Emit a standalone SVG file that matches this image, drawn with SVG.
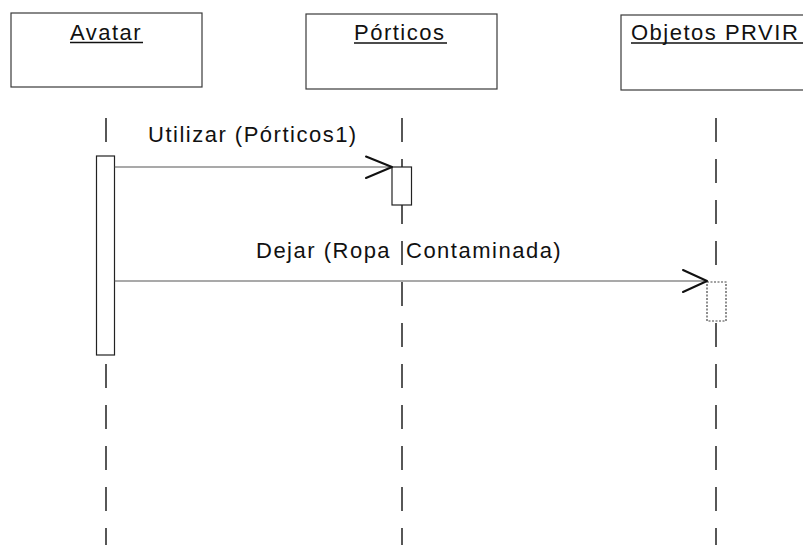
<svg xmlns="http://www.w3.org/2000/svg" width="803" height="545" viewBox="0 0 803 545">
  <defs>
    <style>
      .head { fill: #ffffff; stroke: #3a3a3a; stroke-width: 1.2; }
      .title { font-family: "Liberation Sans", Arial, sans-serif; font-size: 22px; letter-spacing: 1.5px; fill: #111111; }
      .uline { stroke: #111111; stroke-width: 1.6; }
      .life { stroke: #111111; stroke-width: 1.4; stroke-dasharray: 24 17; fill: none; }
      .act { fill: #ffffff; stroke: #222222; stroke-width: 1.2; }
      .act-dot { fill: #ffffff; stroke: #444444; stroke-width: 1.2; stroke-dasharray: 2 1.5; }
      .msg { stroke: #555555; stroke-width: 1.1; fill: none; }
      .tip { stroke: #111111; stroke-width: 2; fill: none; stroke-linecap: round; stroke-linejoin: round; }
      .label { font-family: "Liberation Sans", Arial, sans-serif; font-size: 22px; letter-spacing: 1.5px; fill: #111111; }
    </style>
  </defs>
  <rect x="0" y="0" width="803" height="545" fill="#ffffff"/>

  <!-- lifelines -->
  <g id="lifelines">
    <line class="life" x1="106" y1="118" x2="106" y2="545"/>
    <line class="life" x1="402" y1="118" x2="402" y2="545"/>
    <line class="life" x1="716" y1="118" x2="716" y2="545"/>
  </g>

  <g id="avatar">
    <rect class="head" x="11" y="13" width="191" height="74"/>
    <text class="title" x="70" y="40">Avatar</text>
    <line class="uline" x1="70" y1="42.5" x2="143" y2="42.5"/>
    <rect class="act" x="96.5" y="156" width="18" height="199"/>
  </g>

  <g id="porticos">
    <rect class="head" x="306" y="14" width="191" height="75"/>
    <text class="title" x="354" y="40">Pórticos</text>
    <line class="uline" x1="354" y1="43" x2="447" y2="43"/>
    <rect class="act" x="392" y="167" width="19.5" height="38"/>
  </g>

  <g id="objetos-prvir">
    <rect class="head" x="621" y="15" width="200" height="75"/>
    <text class="title" x="631" y="40">Objetos PRVIR</text>
    <line class="uline" x1="631" y1="43" x2="803" y2="43"/>
    <rect class="act-dot" x="707" y="282" width="19" height="39"/>
  </g>

  <!-- messages -->
  <g id="connectors">
    <line class="msg" x1="114.5" y1="167" x2="392" y2="167"/>
    <polyline class="tip" points="366,156.5 392,167 366,178"/>
    <line class="msg" x1="114.5" y1="281" x2="707" y2="281"/>
    <polyline class="tip" points="683,270 707,281 683,292"/>
  </g>

  <g id="labels">
    <text class="label" x="148" y="142">Utilizar (Pórticos1)</text>
    <text class="label" x="256" y="258">Dejar (Ropa <tspan x="406">Contaminada)</tspan></text>
  </g>
</svg>
